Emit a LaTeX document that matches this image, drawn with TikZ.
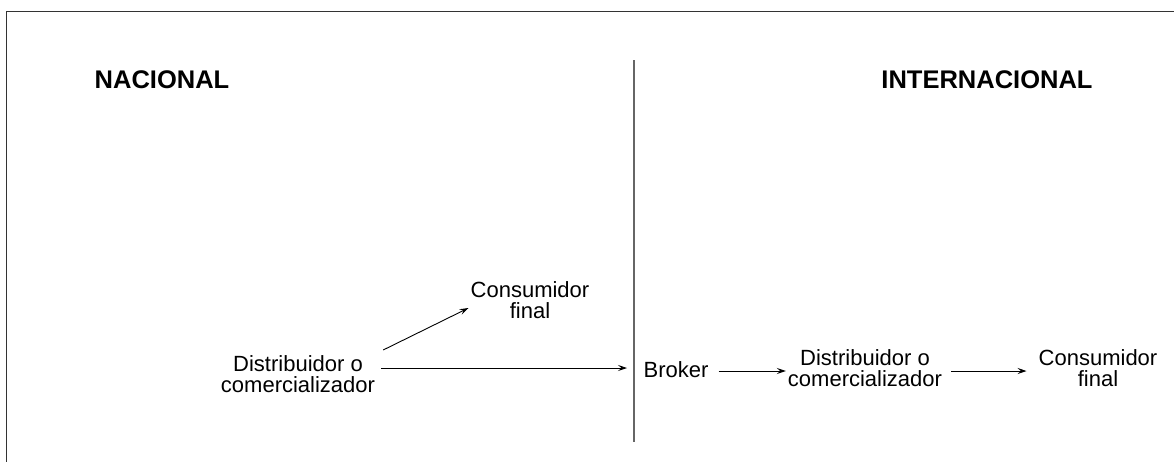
\documentclass[tikz,border=0pt]{standalone}
\usepackage{fontspec}
\setmainfont{Liberation Sans}
\usetikzlibrary{arrows.meta,calc}
\tikzset{
  lbl/.style={inner sep=0pt, align=center, font=\fontsize{22}{21.5}\selectfont},
  head/.style={inner sep=0pt, font=\fontsize{25.5}{28}\selectfont\bfseries},
  arr/.style={line width=0.9pt, -{Stealth[length=9pt,width=6pt,inset=3.5pt]}},
  frame/.style={line width=1.6pt, draw=black!80},
  divider/.style={line width=1.4pt, draw=black!60}
}
\begin{document}
\begin{tikzpicture}[x=1pt,y=-1pt]
\useasboundingbox (0,0) rectangle (1174,461);
\draw[frame] (6.5,470) -- (6.5,11.5) -- (1180,11.5);
\coordinate (dtop) at (634,60);
\coordinate (dbot) at (634,442);
\draw[divider] (dtop) -- (dbot);
\node[head] (nac) at (162,80) {NACIONAL};
\node[head] (int) at (987,80) {INTERNACIONAL};
\node[lbl] (cf1) at (530,300) {Consumidor\\final};
\node[lbl] (dc1) at (298,374) {Distribuidor o\\comercializador};
\node[lbl] (brk) at (676,370) {Broker};
\node[lbl] (dc2) at (865,368) {Distribuidor o\\comercializador};
\node[lbl] (cf2) at (1098,368) {Consumidor\\final};
\coordinate (a1e) at (627,368);
\coordinate (rowy) at (0,371);
\draw[arr] ($(dc1.north east)+(8,-5)$) -- ($(cf1.west)+(-2,8)$);
\draw[arr] ($(dc1.east |- a1e)+(6,0)$) -- (a1e);
\draw[arr] ($(brk.east |- rowy)+(10,0)$) -- ($(dc2.west |- rowy)+(-2,0)$);
\draw[arr] ($(dc2.east |- rowy)+(9,0)$) -- ($(cf2.west |- rowy)+(-12,0)$);
\end{tikzpicture}
\end{document}
